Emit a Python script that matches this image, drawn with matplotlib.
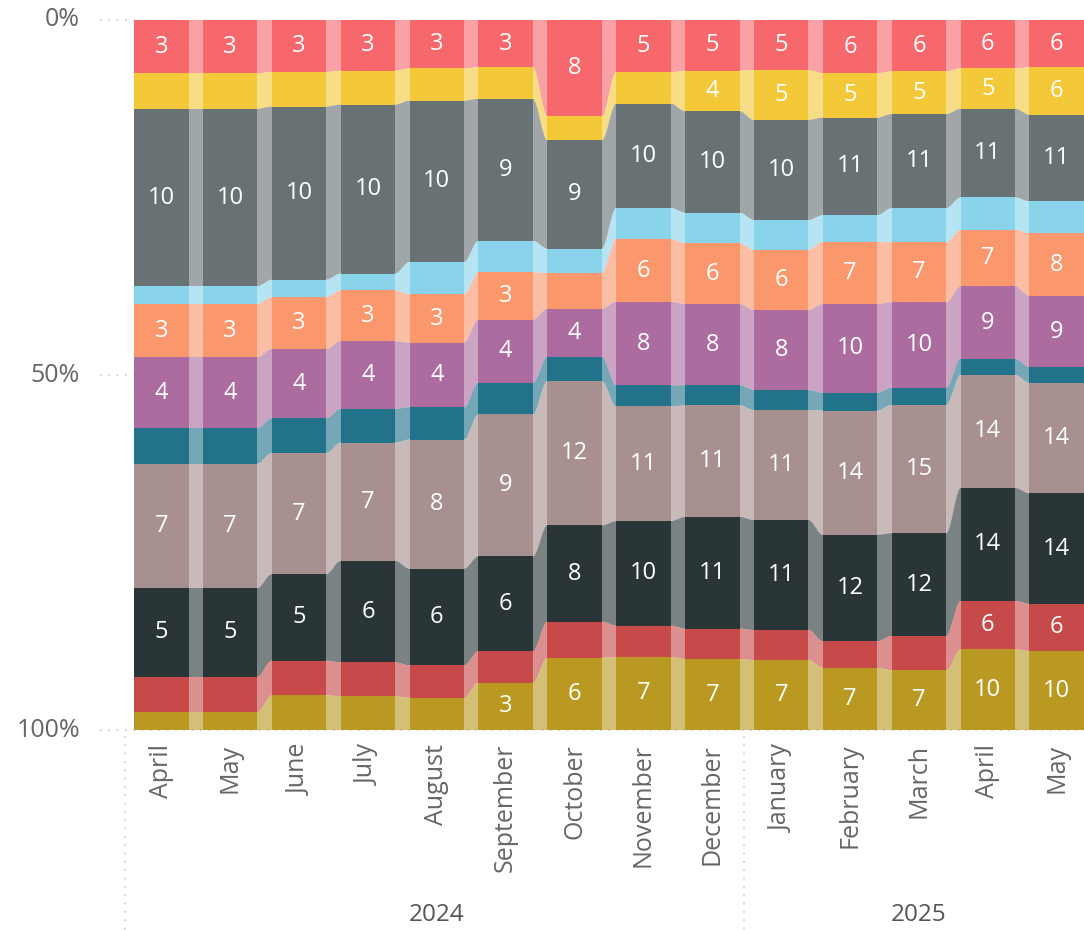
import matplotlib
matplotlib.use("Agg")
import matplotlib.pyplot as plt
from matplotlib.patches import Polygon
from matplotlib.lines import Line2D
import numpy as np

plt.rcParams['font.family'] = ['Open Sans', 'DejaVu Sans']

months = ["April", "May", "June", "July", "August", "September", "October",
          "November", "December", "January", "February", "March", "April", "May"]
year_labels = ["2024", "2025"]
year_spans = [(0, 8), (9, 13)]

s_red_top = [3, 3, 3, 3, 3, 3, 8, 5, 5, 5, 6, 6, 6, 6]
s_yellow = [2, 2, 2, 2, 2, 2, 2, 3, 4, 5, 5, 5, 5, 6]
s_gray = [10, 10, 10, 10, 10, 9, 9, 10, 10, 10, 11, 11, 11, 11]
s_lightblue = [1, 1, 1, 1, 2, 2, 2, 3, 3, 3, 3, 4, 4, 4]
s_orange = [3, 3, 3, 3, 3, 3, 3, 6, 6, 6, 7, 7, 7, 8]
s_purple = [4, 4, 4, 4, 4, 4, 4, 8, 8, 8, 10, 10, 9, 9]
s_teal = [2, 2, 2, 2, 2, 2, 2, 2, 2, 2, 2, 2, 2, 2]
s_mauve = [7, 7, 7, 7, 8, 9, 12, 11, 11, 11, 14, 15, 14, 14]
s_dark = [5, 5, 5, 6, 6, 6, 8, 10, 11, 11, 12, 12, 14, 14]
s_darkred = [2, 2, 2, 2, 2, 2, 3, 3, 3, 3, 3, 4, 6, 6]
s_gold = [1, 1, 2, 2, 2, 3, 6, 7, 7, 7, 7, 7, 10, 10]

series = [s_red_top, s_yellow, s_gray, s_lightblue, s_orange, s_purple,
          s_teal, s_mauve, s_dark, s_darkred, s_gold]
colors = ["#F6686C", "#F3C93A", "#687274", "#8AD4EB", "#FA976D", "#AC6CA0",
          "#22728A", "#A89090", "#293537", "#C64A4A", "#BA9923"]

W, H = 1084, 930
fig = plt.figure(figsize=(W / 100, H / 100), dpi=100)
ax_left, ax_right, ax_top, ax_bot = 100, 1084, 20, 730
ax = fig.add_axes([ax_left / W, (H - ax_bot) / H, (ax_right - ax_left) / W, (ax_bot - ax_top) / H])

slot = 68.85
w = 54.5 / slot
x0 = -(134 - ax_left) / slot
ax.set_xlim(x0, 13 + w)
ax.set_ylim(1, 0)
ax.axis('off')

for gy in [0, 0.5]:
    ax.plot([x0, 0], [gy, gy], color="#C8C8C8", lw=1.2, ls=(0, (1, 4)), zorder=0, clip_on=False)
ax.plot([x0, 13 + w], [1.0, 1.0], color="#C8C8C8", lw=1.2, ls=(0, (1, 4)), zorder=0, clip_on=False)

vals = np.array(series, dtype=float)
totals = vals.sum(axis=0)
fr = vals / totals
tops = np.vstack([np.zeros(len(months)), np.cumsum(fr, axis=0)[:-1]])
bots = np.cumsum(fr, axis=0)

n = len(months)
ext = 0.03
for k in range(len(series)):
    c = colors[k]
    ax.bar(np.arange(n), fr[k], bottom=tops[k], width=w, align='edge', color=c,
           linewidth=0, zorder=2)
    for i in range(n - 1):
        a, b = i + w, i + 1
        t = np.linspace(0, 1, 30)
        s = t * t * (3 - 2 * t)
        xs = a + (b - a) * t
        top_line = tops[k][i] + (tops[k][i + 1] - tops[k][i]) * s
        bot_line = bots[k][i] + (bots[k][i + 1] - bots[k][i]) * s
        xs = np.concatenate([[a - ext], xs, [b + ext]])
        top_line = np.concatenate([[top_line[0]], top_line, [top_line[-1]]])
        bot_line = np.concatenate([[bot_line[0]], bot_line, [bot_line[-1]]])
        pts = np.column_stack([np.concatenate([xs, xs[::-1]]),
                               np.concatenate([top_line, bot_line[::-1]])])
        ax.add_patch(Polygon(pts, closed=True, facecolor=c, alpha=0.62,
                             linewidth=0, zorder=1))
    for i in range(n):
        if fr[k][i] >= 0.053:
            ax.text(i + w / 2, (tops[k][i] + bots[k][i]) / 2, str(series[k][i]),
                    ha='center', va='center', color='white', fontsize=17, zorder=3)

for i, m in enumerate(months):
    ax.annotate(m, xy=(i + w / 2, 0), xycoords=('data', 'axes fraction'),
                xytext=(0, -10), textcoords='offset points', rotation=90,
                ha='center', va='top', fontsize=18, color='#666666')

for lab, yv in [("0%", 0), ("50%", 0.5), ("100%", 1.0)]:
    py = ax_top + yv * (ax_bot - ax_top)
    fig.text(80 / W, (H - py) / H, lab, ha='right', va='center', fontsize=18, color='#666666')

for lab, (a, b) in zip(year_labels, year_spans):
    cx = 134 + ((a + b) / 2) * slot + 54.5 / 2
    fig.text(cx / W, (H - 915) / H, lab, ha='center', va='center', fontsize=17.5, color='#555555')

for px in [125, 744]:
    fig.add_artist(Line2D([px / W, px / W], [(H - 736) / H, 0], color="#C8C8C8",
                          lw=1.2, ls=(0, (1, 4))))

fig.savefig("out.png", dpi=100, facecolor='white')
